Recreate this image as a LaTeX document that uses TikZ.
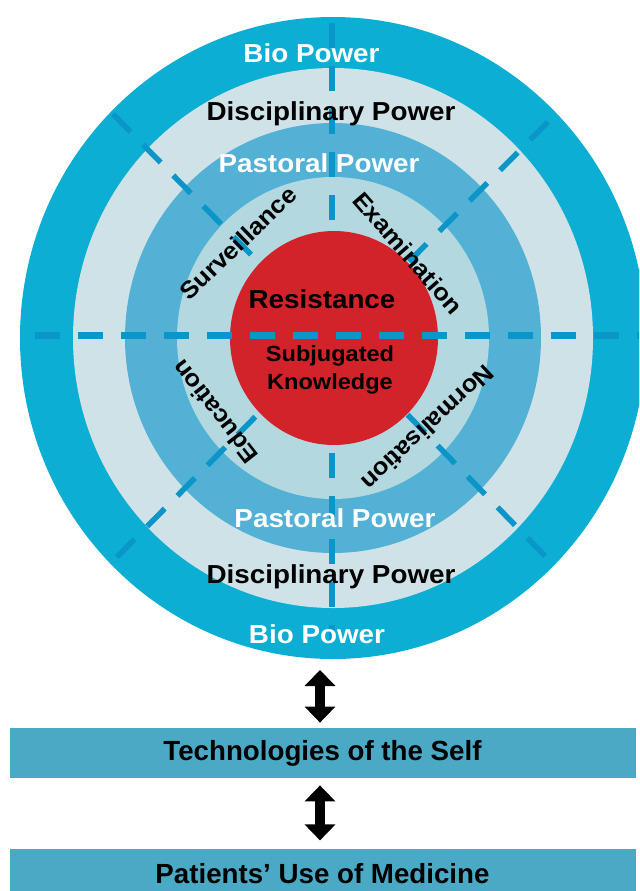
\documentclass[tikz,border=0pt]{standalone}
\usepackage{fontspec}
\setmainfont{Liberation Sans}
\newfontfamily\ringfont[FakeStretch=1.07]{Liberation Sans}
\usetikzlibrary{arrows.meta, positioning}
\definecolor{bioblue}{HTML}{0CAED3}
\definecolor{discgrey}{HTML}{CFE2E7}
\definecolor{pastblue}{HTML}{52B1D4}
\definecolor{innerblue}{HTML}{B3D8E0}
\definecolor{resistred}{HTML}{D2232A}
\definecolor{dashblue}{HTML}{0A96C9}
\definecolor{boxblue}{HTML}{4AAAC6}
\tikzset{
    dashline/.style={draw=dashblue, line width=2.75pt, dash pattern=on 12.5pt off 9pt},
    ringlabel/.style={inner sep=0pt, font=\ringfont\bfseries\fontsize{13}{15}\selectfont},
    innerlabel/.style={inner sep=0pt, font=\ringfont\bfseries\fontsize{12}{14}\selectfont},
    box/.style={rectangle, fill=boxblue, minimum width=313pt, minimum height=25pt, inner sep=0pt, align=center, font=\bfseries\fontsize{13.85}{16}\selectfont},
    arrow/.style={{Triangle[width=15pt,length=8pt]}-{Triangle[width=15pt,length=8pt]}, line width=5pt}
}

\begin{document}
\begin{tikzpicture}[x=0.5pt, y=-0.5pt]
\clip (0,0) rectangle (639,891);
\fill[bioblue] (333,338) ellipse [x radius=313, y radius=321];
\fill[discgrey] (333,338) ellipse [x radius=260, y radius=270];
\fill[pastblue] (333,338) ellipse [x radius=208, y radius=215];
\fill[innerblue] (333,338) ellipse [x radius=156, y radius=161];
\draw[dashline] (332,23) -- (332,640);
\draw[dashline] (113,114) -- (333,338);
\draw[dashline] (548,122) -- (333,338);
\draw[dashline] (117,557) -- (333,338);
\draw[dashline] (545,556) -- (333,338);
\fill[resistred] (334,338) ellipse [x radius=104, y radius=107];
\draw[dashline, line width=3.5pt] (35,335) -- (660,335);
\node[ringlabel, white, anchor=base] (bioT) at (311.5,62) {Bio Power};
\node[ringlabel, anchor=base] (discT) at (331,120) {Disciplinary Power};
\node[ringlabel, white, anchor=base] (pastT) at (319,172) {Pastoral Power};
\node[ringlabel, anchor=base] (resist) at (322,308) {Resistance};
\node[inner sep=0pt, align=center, font=\ringfont\bfseries\fontsize{11}{14}\selectfont] (subj) at (330,370) {Subjugated\\Knowledge};
\node[innerlabel, rotate=44] (surv) at (238,243) {Surveillance};
\node[innerlabel, rotate=-49] (exam) at (408,253) {Examination};
\node[innerlabel, rotate=128] (educ) at (215,412) {Education};
\node[innerlabel, rotate=-137] (norm) at (428,428) {Normalisation};
\node[ringlabel, white, anchor=base] (pastB) at (335,527) {Pastoral Power};
\node[ringlabel, anchor=base] (discB) at (331,583) {Disciplinary Power};
\node[ringlabel, white, anchor=base] (bioB) at (317,643) {Bio Power};
\coordinate (wheel) at (320,660);
\node[box] (tech) at (322.5,753) {Technologies of the Self};
\node[box, below=35pt of tech] (med) {Patients’ Use of Medicine};
\draw[arrow, shorten <=5pt, shorten >=2.5pt] (wheel) -- (wheel |- tech.north);
\draw[arrow, shorten <=3.5pt, shorten >=4pt] ([xshift=-1.25pt]tech.south) -- ([xshift=-1.25pt]med.north);
\end{tikzpicture}
\end{document}
